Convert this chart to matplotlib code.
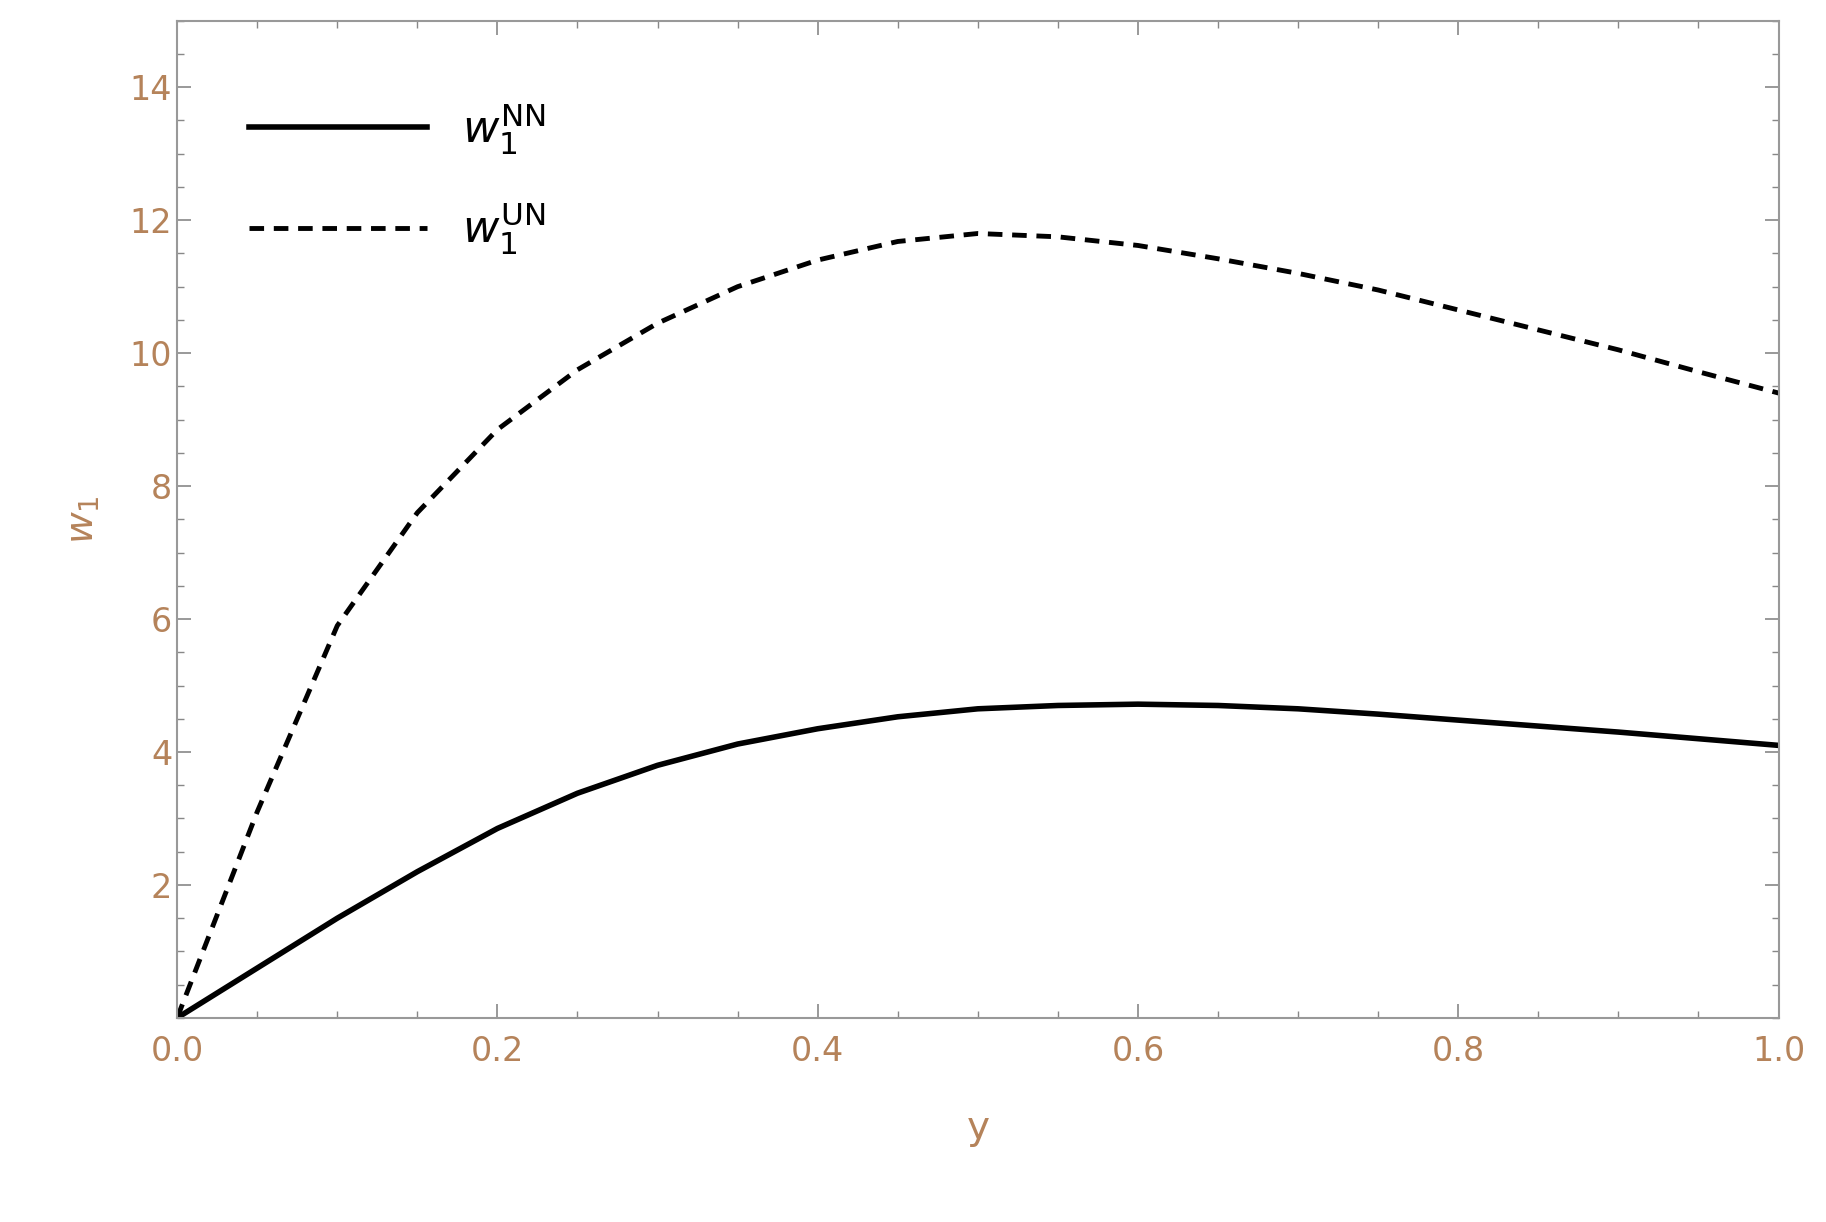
import numpy as np
import matplotlib.pyplot as plt
from matplotlib.ticker import MultipleLocator

y = [0.0, 0.05, 0.1, 0.15, 0.2, 0.25, 0.3, 0.35, 0.4, 0.45, 0.5,
     0.55, 0.6, 0.65, 0.7, 0.75, 0.8, 0.85, 0.9, 0.95, 1.0]
w_nn = [0.0, 0.75, 1.5, 2.2, 2.85, 3.38, 3.8, 4.12, 4.35, 4.53, 4.65,
        4.7, 4.72, 4.7, 4.65, 4.57, 4.48, 4.39, 4.3, 4.2, 4.1]
w_un = [0.0, 3.1, 5.9, 7.6, 8.85, 9.75, 10.45, 11.0, 11.4, 11.68, 11.8,
        11.75, 11.62, 11.42, 11.2, 10.95, 10.65, 10.35, 10.05, 9.72, 9.4]

tc = '#b5835a'
fig = plt.figure(figsize=(18.26, 12.22), dpi=100)
ax = fig.add_axes([0.097, 0.167, 0.877, 0.816])
ax.plot(y, w_nn, color='black', lw=4, label=r'$w_1^{\mathrm{NN}}$')
ax.plot(y, w_un, color='black', lw=3.5, ls=(0, (3, 2)), label=r'$w_1^{\mathrm{UN}}$')
ax.set_xlim(0, 1)
ax.set_ylim(0, 15)
ax.set_xticks([0, 0.2, 0.4, 0.6, 0.8, 1.0])
ax.set_yticks([2, 4, 6, 8, 10, 12, 14])
ax.xaxis.set_minor_locator(MultipleLocator(0.05))
ax.yaxis.set_minor_locator(MultipleLocator(0.5))
ax.tick_params(which='both', direction='in', top=True, right=True, colors='#888888', labelcolor=tc, labelsize=24)
ax.tick_params(which='major', length=10, width=1.2)
ax.tick_params(which='minor', length=5, width=1)
for s in ax.spines.values():
    s.set_color('#999999')
    s.set_linewidth(1.5)
ax.xaxis.set_tick_params(pad=12)
ax.set_xlabel('y', color=tc, fontsize=28, labelpad=30)
ax.set_ylabel(r'$w_1$', color=tc, fontsize=28, labelpad=20)
leg = ax.legend(loc='upper left', bbox_to_anchor=(0.02, 0.96), frameon=False, fontsize=32,
                handlelength=4, labelspacing=1.0)
fig.savefig('out.png')
